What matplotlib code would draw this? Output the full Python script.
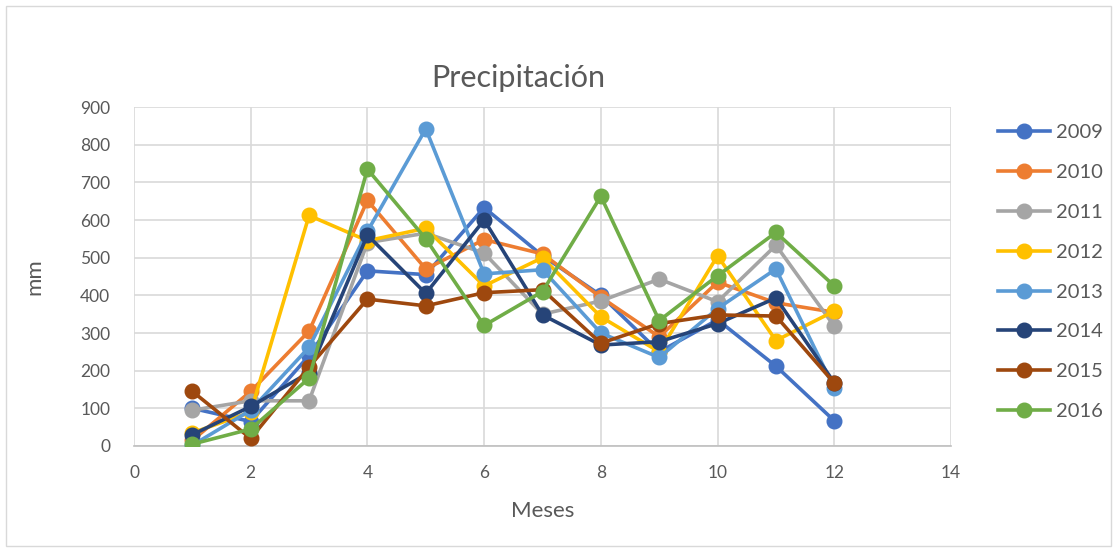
import matplotlib.pyplot as plt
from matplotlib.patches import Rectangle

plt.rcParams['font.family'] = ['Lato', 'DejaVu Sans']

meses = [1, 2, 3, 4, 5, 6, 7, 8, 9, 10, 11, 12]

# precipitación mensual (mm)
p2009 = [100, 65, 240, 465, 455, 633, 505, 400, 250, 335, 212, 67]
p2010 = [15, 145, 305, 652, 470, 548, 510, 395, 290, 435, 380, 355]
p2011 = [95, 120, 120, 540, 565, 512, 350, 385, 443, 383, 533, 318]
p2012 = [35, 90, 612, 545, 578, 425, 500, 343, 250, 505, 280, 358]
p2013 = [2, 95, 262, 570, 842, 457, 468, 300, 235, 365, 470, 153]
p2014 = [30, 105, 195, 560, 405, 600, 348, 268, 277, 325, 393, 168]
p2015 = [145, 20, 210, 390, 372, 407, 415, 273, 325, 348, 345, 167]
p2016 = [5, 45, 180, 735, 550, 320, 410, 663, 333, 452, 567, 425]

series = [
    ("2009", p2009, "#4472C4"),
    ("2010", p2010, "#ED7D31"),
    ("2011", p2011, "#A5A5A5"),
    ("2012", p2012, "#FFC000"),
    ("2013", p2013, "#5B9BD5"),
    ("2014", p2014, "#264478"),
    ("2015", p2015, "#9E480E"),
    ("2016", p2016, "#70AD47"),
]

fig = plt.figure(figsize=(11.17, 5.52), dpi=100)
ax = fig.add_axes([134 / 1117, 1 - 446 / 552, (951 - 134) / 1117, (446 - 107) / 552])

for nombre, valores, color in series:
    ax.plot(meses, valores, color=color, linewidth=2.6, marker='o',
            markersize=10.5, label=nombre, zorder=3)

ax.set_xlim(0, 14)
ax.set_ylim(0, 900)
ax.set_xticks(range(0, 15, 2))
ax.set_yticks(range(0, 901, 100))
ax.grid(True, color='#D9D9D9', linewidth=1.2, zorder=0)
ax.set_axisbelow(True)
for lado in ['top', 'right', 'left']:
    ax.spines[lado].set_visible(False)
ax.spines['bottom'].set_color('#BFBFBF')
ax.spines['bottom'].set_linewidth(1.2)
ax.tick_params(axis='y', length=0, labelsize=12.5, colors='#595959', pad=17)
ax.tick_params(axis='x', length=0, labelsize=12.5, colors='#595959', pad=14)

ax.set_xlabel("Meses", fontsize=16, color='#595959', labelpad=14)
ax.set_ylabel("mm", fontsize=16, color='#595959', labelpad=26)
fig.text(518 / 1117, 1 - 78 / 552, "Precipitación", fontsize=22,
         color='#595959', ha='center', va='center')

ax.legend(loc='upper left', bbox_to_anchor=(980 / 1117, 1 - 106 / 552),
          bbox_transform=fig.transFigure, frameon=False, fontsize=14.5,
          labelcolor='#595959', handlelength=2.6, labelspacing=1.13,
          handletextpad=0.25)

fig.patches.append(Rectangle((6 / 1117, 6 / 552), 1 - 12 / 1117, 1 - 12 / 552,
                             transform=fig.transFigure, fill=False,
                             edgecolor='#D9D9D9', linewidth=1))

fig.savefig("out.png", dpi=100)
